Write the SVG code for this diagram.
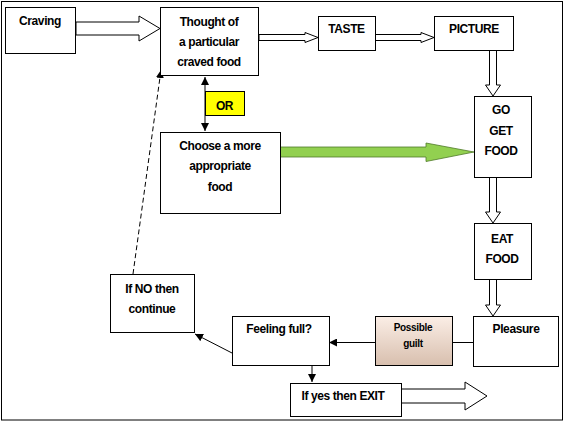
<svg xmlns="http://www.w3.org/2000/svg" width="566" height="422" viewBox="0 0 566 422">
<style>
.box{fill:#fff;stroke:#000;stroke-width:1}
.t{font-family:"Liberation Sans",Arial,sans-serif;font-weight:bold;font-size:12px;text-anchor:middle;fill:#000;letter-spacing:-0.4px}
.s{font-size:10px;letter-spacing:-0.3px}
.blk{fill:#fff;stroke:#000;stroke-width:1}
.ln{fill:none;stroke:#000;stroke-width:1}
</style>
<defs>
<linearGradient id="guilt" x1="0" y1="0" x2="0" y2="1">
<stop offset="0" stop-color="#fbeee6"/>
<stop offset="1" stop-color="#d8bfae"/>
</linearGradient>
<marker id="ah" viewBox="0 0 10 10" refX="10" refY="5" markerWidth="8" markerHeight="8" markerUnits="userSpaceOnUse" orient="auto-start-reverse">
<path d="M0,0 L10,5 L0,10 Z" fill="#000"/>
</marker>
</defs>
<rect x="1.5" y="1.5" width="561" height="418.5" fill="#fff" stroke="#000" stroke-width="1"/>
<g id="connectors">
<path class="blk" d="M76,22 H139 V16 L160,28.5 L139,41 V35 H76 Z"/>
<path class="blk" d="M259,34.5 H305 V32.5 L318,37.5 L305,42.5 V40.5 H259 Z"/>
<path class="blk" d="M375,34.5 H421 V32.5 L434,37.5 L421,42.5 V40.5 H375 Z"/>
<path class="blk" d="M489.5,50 V85 H485.5 L493,96 L500.5,85 H496.5 V50 Z"/>
<path class="blk" d="M489.5,177 V212 H485.5 L493,223 L500.5,212 H496.5 V177 Z"/>
<path class="blk" d="M489.5,279 V305 H485.5 L493,316 L500.5,305 H496.5 V279 Z"/>
<path d="M280,147 H426 V143 L474,152 L426,161.5 V157 H280 Z" fill="#92d050" stroke="#4f7a28" stroke-width="0.8"/>
<line class="ln" x1="205" y1="77" x2="205" y2="131" marker-start="url(#ah)" marker-end="url(#ah)"/>
<line class="ln" x1="133" y1="274" x2="161" y2="70" stroke-dasharray="5,3" marker-end="url(#ah)"/>
<line class="ln" x1="473" y1="342.5" x2="329" y2="342.5" marker-end="url(#ah)"/>
<line class="ln" x1="232" y1="353" x2="195" y2="334" marker-end="url(#ah)"/>
<line class="ln" x1="312" y1="365" x2="312" y2="382" marker-end="url(#ah)"/>
<path class="blk" d="M401,389 H465 V382 L487,396 L465,410 V403 H401 Z"/>
</g>
<g id="craving"><rect class="box" x="5.5" y="7.5" width="70" height="46"/><text class="t" x="40" y="25">Craving</text></g>
<g id="thought"><rect class="box" x="160.5" y="7.5" width="98" height="68"/><text class="t" x="209" y="26">Thought of</text><text class="t" x="209" y="46">a particular</text><text class="t" x="209" y="66">craved food</text></g>
<g id="or"><rect x="205.5" y="91.5" width="39" height="24" fill="#ffff00" stroke="#000"/><text class="t" x="224.5" y="109.5">OR</text></g>
<g id="choose"><rect class="box" x="160.5" y="132.5" width="120" height="81"/><text class="t" x="220" y="150">Choose a more</text><text class="t" x="220" y="170">appropriate</text><text class="t" x="220" y="191">food</text></g>
<g id="taste"><rect class="box" x="318.5" y="16.5" width="57" height="34"/><text class="t" x="346.5" y="33">TASTE</text></g>
<g id="picture"><rect class="box" x="434.5" y="16.5" width="79" height="34"/><text class="t" x="474" y="33">PICTURE</text></g>
<g id="goget"><rect class="box" x="474.5" y="96.5" width="57" height="81"/><text class="t" x="501" y="114">GO</text><text class="t" x="501" y="135">GET</text><text class="t" x="501" y="155">FOOD</text></g>
<g id="eat"><rect class="box" x="474.5" y="223.5" width="57" height="56"/><text class="t" x="502" y="243">EAT</text><text class="t" x="502" y="263">FOOD</text></g>
<g id="pleasure"><rect class="box" x="473.5" y="316.5" width="85" height="50"/><text class="t" x="516" y="333">Pleasure</text></g>
<g id="guilt"><rect x="375.5" y="316.5" width="77" height="49" fill="url(#guilt)" stroke="#000"/><text class="t s" x="413" y="331">Possible</text><text class="t s" x="413" y="347">guilt</text></g>
<g id="feeling"><rect class="box" x="232.5" y="316.5" width="97" height="49"/><text class="t" x="279" y="333">Feeling full?</text></g>
<g id="ifno"><rect class="box" x="110.5" y="274.5" width="84" height="58"/><text class="t" x="152" y="293">If NO then</text><text class="t" x="152" y="313">continue</text></g>
<g id="exit"><rect class="box" x="290.5" y="383.5" width="111" height="33"/><text class="t" x="343" y="400">If yes then EXIT</text></g>
</svg>
